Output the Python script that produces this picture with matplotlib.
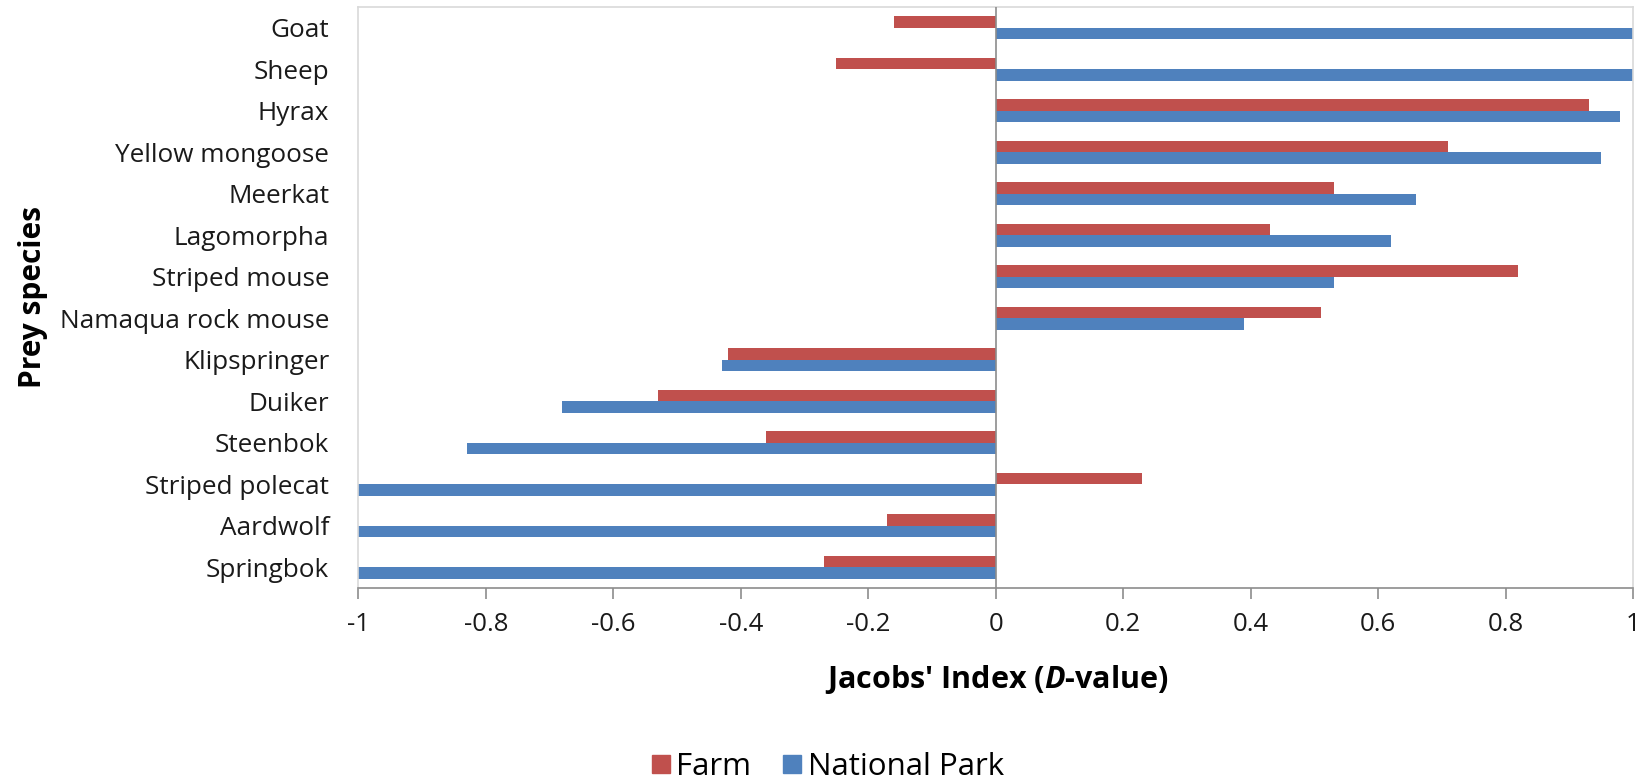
import matplotlib
matplotlib.use("Agg")
import matplotlib.pyplot as plt
import numpy as np
from matplotlib.lines import Line2D

species = ["Goat", "Sheep", "Hyrax", "Yellow mongoose", "Meerkat", "Lagomorpha",
           "Striped mouse", "Namaqua rock mouse", "Klipspringer", "Duiker",
           "Steenbok", "Striped polecat", "Aardwolf", "Springbok"]
farm = [-0.16, -0.25, 0.93, 0.71, 0.53, 0.43, 0.82, 0.51, -0.42, -0.53, -0.36, 0.23, -0.17, -0.27]
national_park = [1.0, 1.0, 0.98, 0.95, 0.66, 0.62, 0.53, 0.39, -0.43, -0.68, -0.83, -1.0, -1.0, -1.0]
xticks = [-1, -0.8, -0.6, -0.4, -0.2, 0, 0.2, 0.4, 0.6, 0.8, 1]
xticklabels = ["-1", "-0.8", "-0.6", "-0.4", "-0.2", "0", "0.2", "0.4", "0.6", "0.8", "1"]

plt.rcParams['font.family'] = ['Open Sans', 'DejaVu Sans']
plt.rcParams['mathtext.fontset'] = 'custom'
plt.rcParams['mathtext.bfit'] = 'Open Sans:italic:bold'
plt.rcParams['mathtext.it'] = 'Open Sans:italic'
plt.rcParams['mathtext.rm'] = 'Open Sans'
plt.rcParams['mathtext.bf'] = 'Open Sans:bold'

RED = "#C0504D"
BLUE = "#4F81BD"

fig = plt.figure(figsize=(16.48, 7.83), dpi=100)
ax = fig.add_axes([0.2175, 0.249, 0.991 - 0.2175, 0.991 - 0.249])

n = len(species)
y = np.arange(n)[::-1].astype(float)
h = 0.28
ax.barh(y + h / 2, farm, height=h, color=RED, edgecolor="none", zorder=2)
ax.barh(y - h / 2, national_park, height=h, color=BLUE, edgecolor="none", zorder=2)

ax.set_xlim(-1, 1)
ax.set_ylim(-0.5, n - 0.5)
ax.axvline(0, color="#8c8c8c", lw=1.2, zorder=3)

ax.set_yticks(y)
ax.set_yticklabels(species, fontsize=18.8, color="#1a1a1a")
ax.tick_params(axis="y", length=0, pad=21)

ax.set_xticks(xticks)
ax.set_xticklabels(xticklabels, fontsize=18.5, color="#1a1a1a")
ax.tick_params(axis="x", length=8, width=1.2, color="#8c8c8c", pad=9, direction="out")

for s in ["top", "right", "left"]:
    ax.spines[s].set_color("#d9d9d9")
    ax.spines[s].set_linewidth(1.2)
ax.spines["bottom"].set_color("#8c8c8c")
ax.spines["bottom"].set_linewidth(1.2)

fig.text(997 / 1648, 1 - 679 / 783, r"Jacobs' Index ($\mathbfit{D}$-value)", fontsize=22,
         fontweight="bold", ha="center", va="center")

fig.text(33 / 1648, 1 - 297 / 783, "Prey species", fontsize=21.5, fontweight="bold",
         rotation=90, ha="center", va="center")

handles = [Line2D([], [], marker="s", ls="none", color=RED, markersize=13),
           Line2D([], [], marker="s", ls="none", color=BLUE, markersize=13)]
fig.legend(handles, ["Farm", "National Park"], loc="center", bbox_to_anchor=(826 / 1648, 1 - 767 / 783),
           ncol=2, frameon=False, fontsize=22.5, handletextpad=0.1, columnspacing=0.9, handlelength=0.8)

fig.savefig("out.png", dpi=100)
